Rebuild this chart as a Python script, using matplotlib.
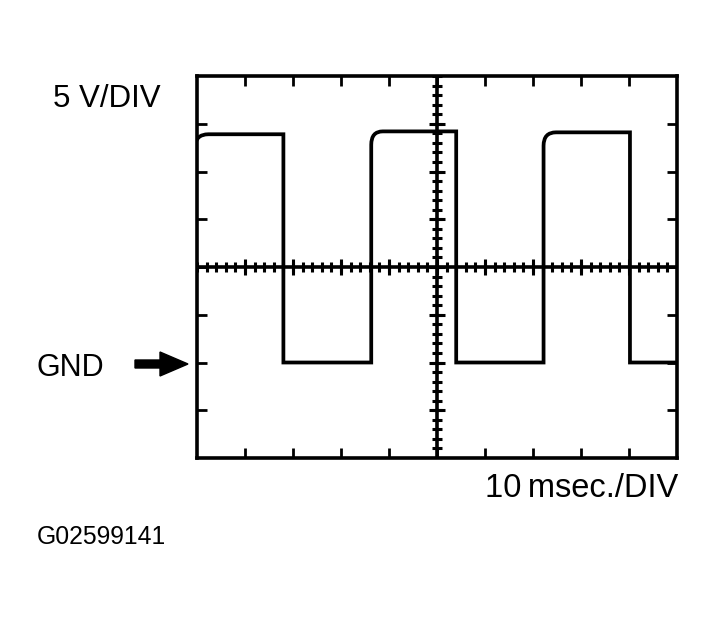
import numpy as np
import matplotlib
matplotlib.use("Agg")
import matplotlib.pyplot as plt
from matplotlib.path import Path
from matplotlib.patches import PathPatch, Polygon
from matplotlib.transforms import IdentityTransform

# ---- data (time in ms, voltage in V, GND = 0 V) ----
rise_times = [-0.4, 36.3, 72.2]      # ms
fall_times = [18.0, 54.0, 90.2]      # ms
high_levels = [23.9, 24.2, 24.1]     # V
gnd_level = 0.0
corner_dv = [1.4, 1.4, 1.4]          # rounding of the rising corner (V)
corner_dt = [2.8, 2.4, 2.6]          # rounding of the rising corner (ms)
t_end = 100.0

x_label = "10\u2009msec./DIV"
y_label = "5 V/DIV"
gnd_label = "GND"
code_label = "G02599141"

W, H = 716, 620
fig = plt.figure(figsize=(W / 100, H / 100), dpi=100)
fig.patch.set_facecolor("white")

L, R, T, B = 197, 677, 76, 458
ax = fig.add_axes([L / W, 1 - B / H, (R - L) / W, (B - T) / H])
ax.set_xlim(0, 100)
ax.set_ylim(-10, 30)

# frame
for s in ax.spines.values():
    s.set_linewidth(2.6)
    s.set_color("black")
ax.set_xticks(np.arange(10, 100, 10))
ax.set_yticks(np.arange(-5, 30, 5))
ax.tick_params(axis="both", which="both", direction="in", length=7, width=2.0,
               top=True, right=True, bottom=True, left=True,
               labelbottom=False, labelleft=False, color="black")

# centre cross with graduations
xc, yc = 50, 10
ax.axhline(yc, color="black", lw=2.6, zorder=2)
ax.axvline(xc, color="black", lw=2.6, zorder=2)
minor_x = np.arange(0, 100.01, 2)
major_x = np.arange(10, 100, 10)
ax.plot(minor_x, np.full_like(minor_x, yc), ls="none", marker="|",
        ms=7, mew=2.2, color="black", zorder=2)
ax.plot(major_x, np.full_like(major_x, yc, dtype=float), ls="none", marker="|",
        ms=12, mew=2.2, color="black", zorder=2)
minor_y = np.arange(-10, 30.01, 1)
major_y = np.arange(-5, 30, 5)
ax.plot(np.full_like(minor_y, xc), minor_y, ls="none", marker="_",
        ms=7, mew=2.2, color="black", zorder=2)
ax.plot(np.full_like(major_y, xc, dtype=float), major_y, ls="none", marker="_",
        ms=12, mew=2.2, color="black", zorder=2)

# waveform path
verts, codes = [], []
for i, (tr, tf, hv, dv, dt) in enumerate(zip(rise_times, fall_times, high_levels,
                                             corner_dv, corner_dt)):
    if i == 0:
        verts.append((tr, hv - dv)); codes.append(Path.MOVETO)
    else:
        verts.append((tr, gnd_level)); codes.append(Path.LINETO)
        verts.append((tr, hv - dv)); codes.append(Path.LINETO)
    verts.append((tr, hv)); codes.append(Path.CURVE3)
    verts.append((tr + dt, hv)); codes.append(Path.CURVE3)
    verts.append((tf, hv)); codes.append(Path.LINETO)
    verts.append((tf, gnd_level)); codes.append(Path.LINETO)
verts.append((t_end + 1, gnd_level)); codes.append(Path.LINETO)
wave = PathPatch(Path(verts, codes), fill=False, lw=2.7, edgecolor="black",
                 joinstyle="miter", capstyle="butt", zorder=3)
ax.add_patch(wave)

# texts
fam = ["Liberation Sans", "DejaVu Sans"]
fig.text(53 / W, 1 - 107 / H, y_label, fontsize=22.5, family=fam, ha="left", va="baseline")
fig.text(36 / W, 1 - 376 / H, gnd_label, fontsize=22, family=fam, ha="left", va="baseline")
fig.text(678 / W, 1 - 497 / H, x_label, fontsize=23.5, family=fam, ha="right", va="baseline")
fig.text(37 / W, 1 - 544 / H, code_label, fontsize=17.8, family=fam, ha="left", va="baseline")

# GND arrow (pixel coordinates, origin bottom-left)
yc_px = H - 364
arrow = Polygon([(135, yc_px - 4), (160, yc_px - 4), (160, yc_px - 12),
                 (188, yc_px), (160, yc_px + 12), (160, yc_px + 4), (135, yc_px + 4)],
                closed=True, facecolor="black", edgecolor="black", lw=1,
                transform=IdentityTransform())
fig.patches.append(arrow)

fig.savefig("out.png", dpi=100, facecolor="white")
